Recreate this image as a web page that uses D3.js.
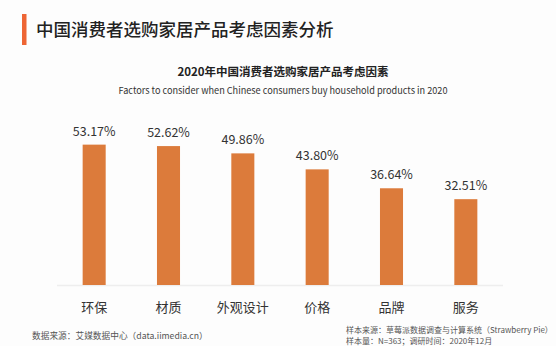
<!DOCTYPE html>
<meta charset="utf-8">
<style>
    body { margin: 0; background: #fdfdfd; }
    svg { display: block; font-family: "Noto Sans CJK SC", "Noto Sans", sans-serif; }
    .bar { fill: #dc7b3b; }
    .valueLabel { font-size: 12.5px; fill: #333; text-anchor: middle; }
    .catLabel { font-size: 13px; fill: #333; text-anchor: middle; }
    .note { font-size: 8px; fill: #555; }
</style>
<body>
<script src="https://d3js.org/d3.v7.min.js"></script>
<script>
    // data
    var categories = ["环保", "材质", "外观设计", "价格", "品牌", "服务"];
    var shares = [53.17, 52.62, 49.86, 43.80, 36.64, 32.51];

    var width = 556, height = 346;

    var svg = d3.select("body").append("svg")
        .attr("width", width)
        .attr("height", height);

    // page title with accent bar
    svg.append("rect").attr("x", 22).attr("y", 14).attr("width", 4.5).attr("height", 31).attr("fill", "#ee6534");
    svg.append("text").text("中国消费者选购家居产品考虑因素分析")
        .attr("x", 36).attr("y", 35.5)
        .style("font-size", "17.5px").style("font-weight", "500").attr("fill", "#222");

    // chart titles
    svg.append("text").text("2020年中国消费者选购家居产品考虑因素")
        .attr("x", 283).attr("y", 76)
        .attr("text-anchor", "middle")
        .style("font-size", "11.5px").style("font-weight", "bold").attr("fill", "#222");
    svg.append("text").text("Factors to consider when Chinese consumers buy household products in 2020")
        .attr("x", 283).attr("y", 93.5)
        .attr("text-anchor", "middle")
        .attr("textLength", 329).attr("lengthAdjust", "spacingAndGlyphs")
        .style("font-size", "9.5px").attr("fill", "#333");

    // scales
    var x = d3.scaleBand().domain(categories).range([57, 503]).paddingInner(0.69).paddingOuter(0.345);
    var y = d3.scaleLinear().domain([0, 100]).range([285, 21]);

    // axis line
    svg.append("line")
        .attr("x1", 57).attr("x2", 503)
        .attr("y1", y(0) + 0.5).attr("y2", y(0) + 0.5)
        .attr("stroke", "#eeeeee").attr("stroke-width", 1.5);

    // bars
    svg.selectAll(".bar").data(shares).enter().append("rect")
        .attr("class", "bar")
        .attr("x", function(d, i) { return x(categories[i]); })
        .attr("width", x.bandwidth())
        .attr("y", function(d) { return y(d); })
        .attr("height", function(d) { return y(0) - y(d); });

    // value labels
    svg.selectAll(".valueLabel").data(shares).enter().append("text")
        .attr("class", "valueLabel")
        .attr("x", function(d, i) { return x(categories[i]) + x.bandwidth() / 2; })
        .attr("y", function(d) { return y(d) - 9; })
        .text(function(d) { return d.toFixed(2) + "%"; });

    // category labels
    svg.selectAll(".catLabel").data(categories).enter().append("text")
        .attr("class", "catLabel")
        .attr("x", function(d) { return x(d) + x.bandwidth() / 2; })
        .attr("y", 312)
        .text(function(d) { return d; });

    // notes
    svg.append("text").attr("class", "note").attr("x", 32).attr("y", 338.5)
        .style("font-size", "8.7px")
        .text("数据来源：艾媒数据中心（data.iimedia.cn）");
    svg.append("text").attr("class", "note").attr("x", 346).attr("y", 332.5)
        .text("样本来源：草莓派数据调查与计算系统（Strawberry Pie）");
    svg.append("text").attr("class", "note").attr("x", 346).attr("y", 344)
        .text("样本量：N=363；调研时间：2020年12月");
</script>
</body>
